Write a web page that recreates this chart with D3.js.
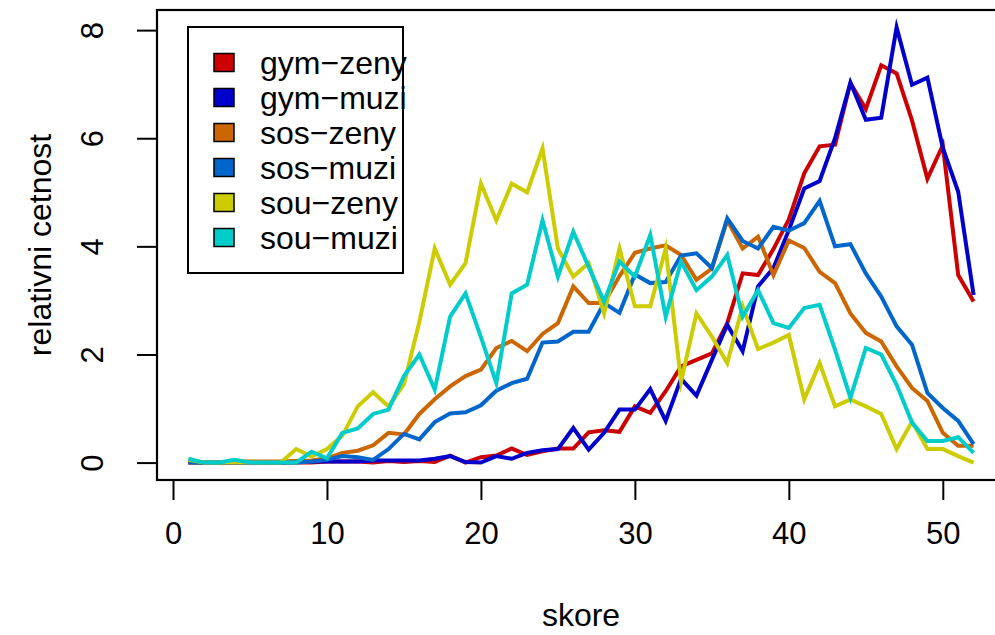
<!DOCTYPE html>
<html>
<head>
<meta charset="utf-8">
<script src="https://cdn.jsdelivr.net/npm/d3@7"></script>
<style>
  body { margin: 0; background: #fff; }
  svg text { font-family: "Liberation Sans", Arial, sans-serif; fill: #000; }
</style>
</head>
<body>
<div id="chart"></div>
<script>
/* global d3 */

var skore = d3.range(1, 53);

var seriesNames = ["gym\u2212zeny", "gym\u2212muzi", "sos\u2212zeny", "sos\u2212muzi", "sou\u2212zeny", "sou\u2212muzi"];
var seriesColors = ["#CC0000", "#0000CC", "#CC6600", "#0066CC", "#CCCC00", "#00CCCC"];

var gymZeny = [0.02, 0, 0, 0, 0, 0, 0, 0, 0, 0.02, 0.02, 0.02, 0, 0.03, 0.01, 0.03, 0.01, 0.13, 0, 0.1,
    0.13, 0.26, 0.14, 0.21, 0.26, 0.26, 0.56, 0.6, 0.57, 1.04, 0.92, 1.32, 1.78, 1.9, 2.02, 2.58, 3.5, 3.47, 3.95, 4.5,
    5.35, 5.85, 5.88, 7.02, 6.54, 7.35, 7.2, 6.33, 5.25, 5.87, 3.47, 2.98];
var gymMuzi = [0, 0, 0, 0, 0, 0, 0, 0.02, 0.02, 0.02, 0.02, 0.02, 0.04, 0.04, 0.04, 0.04, 0.07, 0.12, 0.01, 0,
    0.12, 0.07, 0.18, 0.23, 0.25, 0.64, 0.24, 0.55, 0.98, 0.98, 1.36, 0.77, 1.55, 1.24, 1.9, 2.55, 2.06, 3.26, 3.6, 4.3,
    5.07, 5.21, 6.0, 7.03, 6.34, 6.38, 8.05, 6.99, 7.12, 5.82, 5.01, 3.1];
var sosZeny = [0, 0, 0, 0.02, 0.02, 0.02, 0.02, 0.03, 0.04, 0.08, 0.18, 0.22, 0.32, 0.55, 0.52, 0.9, 1.17, 1.41, 1.6, 1.72,
    2.12, 2.25, 2.06, 2.38, 2.58, 3.26, 2.95, 2.95, 3.45, 3.88, 3.96, 4.02, 3.84, 3.38, 3.59, 4.48, 3.96, 4.18, 3.47, 4.11,
    3.97, 3.53, 3.32, 2.76, 2.4, 2.24, 1.78, 1.38, 1.14, 0.55, 0.31, 0.31];
var sosMuzi = [0, 0, 0, 0, 0, 0, 0, 0, 0.02, 0.05, 0.12, 0.1, 0.05, 0.25, 0.53, 0.43, 0.75, 0.91, 0.93, 1.06,
    1.33, 1.47, 1.55, 2.22, 2.24, 2.42, 2.42, 2.95, 2.77, 3.48, 3.32, 3.34, 3.83, 3.87, 3.6, 4.52, 4.1, 3.96, 4.36, 4.29,
    4.43, 4.84, 4.0, 4.04, 3.5, 3.07, 2.52, 2.18, 1.29, 1.01, 0.77, 0.34];
var souZeny = [0.05, 0, 0, 0, 0, 0, 0, 0.25, 0.11, 0.25, 0.5, 1.04, 1.3, 1.04, 1.45, 2.6, 3.96, 3.29, 3.69, 5.16,
    4.48, 5.16, 5.0, 5.81, 3.96, 3.44, 3.69, 2.76, 3.96, 2.89, 2.89, 3.96, 1.5, 2.76, 2.33, 1.84, 2.89, 2.1, 2.22, 2.36,
    1.17, 1.84, 1.04, 1.17, 1.04, 0.9, 0.25, 0.76, 0.25, 0.25, 0.12, 0];
var souMuzi = [0.07, 0, 0, 0.05, 0, 0, 0, 0, 0.2, 0.08, 0.55, 0.63, 0.9, 0.98, 1.6, 2.0, 1.35, 2.7, 3.13, 2.32,
    1.47, 3.13, 3.29, 4.48, 3.44, 4.27, 3.62, 2.98, 3.72, 3.44, 4.21, 2.7, 3.72, 3.19, 3.44, 3.84, 2.7, 3.19, 2.58, 2.49,
    2.86, 2.92, 2.09, 1.2, 2.12, 2.0, 1.44, 0.74, 0.4, 0.4, 0.47, 0.18];

var xTicks = [0, 10, 20, 30, 40, 50];
var yTicks = [0, 2, 4, 6, 8];
var xTitle = "skore",
    yTitle = "relativni cetnost";

var allSeries = [gymZeny, gymMuzi, sosZeny, sosMuzi, souZeny, souMuzi];

var width = 995,
    height = 635,
    box = { left: 157, right: 1005, top: 10, bottom: 480 },
    fontSize = 32,
    tickFontSize = 31;

// R-style axis limits: data range padded by 4% on each side
var xMin = d3.min(skore), xMax = d3.max(skore);
var yMin = d3.min(allSeries, function(s) { return d3.min(s); }),
    yMax = d3.max(allSeries, function(s) { return d3.max(s); });
var xPad = 0.04 * (xMax - xMin),
    yPad = 0.04 * (yMax - yMin);

var xScale = d3.scaleLinear().domain([xMin - xPad, xMax + xPad]).range([box.left, box.right]);
var yScale = d3.scaleLinear().domain([yMin - yPad, yMax + yPad]).range([box.bottom, box.top]);

var svg = d3.select("#chart").append("svg")
    .attr("width", width)
    .attr("height", height);

svg.append("defs").append("clipPath")
    .attr("id", "plotClip")
    .append("rect")
    .attr("x", box.left).attr("y", box.top)
    .attr("width", box.right - box.left).attr("height", box.bottom - box.top);

// lines, drawn in the same order as matplot
var line = d3.line()
    .x(function(d, i) { return xScale(skore[i]); })
    .y(function(d) { return yScale(d); });

svg.append("g")
    .attr("clip-path", "url(#plotClip)")
    .selectAll("path")
    .data(allSeries)
    .enter().append("path")
    .attr("d", line)
    .attr("fill", "none")
    .attr("stroke", function(d, i) { return seriesColors[i]; })
    .attr("stroke-width", 4)
    .attr("stroke-linejoin", "miter")
    .attr("stroke-miterlimit", 10);

// plot box
svg.append("rect")
    .attr("x", box.left).attr("y", box.top)
    .attr("width", box.right - box.left).attr("height", box.bottom - box.top)
    .attr("fill", "none")
    .attr("stroke", "#000")
    .attr("stroke-width", 2.2);

// x axis
var xAxis = svg.append("g")
    .attr("transform", "translate(0," + box.bottom + ")")
    .call(d3.axisBottom(xScale).tickValues(xTicks).tickSize(20).tickPadding(22).tickSizeOuter(0));
xAxis.select(".domain")
    .attr("d", "M" + xScale(xTicks[0]) + ",0H" + xScale(xTicks[xTicks.length - 1]))
    .attr("stroke-width", 2);
xAxis.selectAll(".tick line").attr("stroke-width", 2);
xAxis.selectAll(".tick text")
    .attr("font-size", tickFontSize)
    .attr("font-family", "Liberation Sans, Arial, sans-serif");

// y axis, labels parallel to the axis like R's default
var yAxis = svg.append("g")
    .attr("transform", "translate(" + box.left + ",0)")
    .call(d3.axisLeft(yScale).tickValues(yTicks).tickSize(20).tickSizeOuter(0));
yAxis.select(".domain")
    .attr("d", "M0," + yScale(yTicks[0]) + "V" + yScale(yTicks[yTicks.length - 1]))
    .attr("stroke-width", 2);
yAxis.selectAll(".tick line").attr("stroke-width", 2);
yAxis.selectAll(".tick text")
    .attr("x", null).attr("dy", null)
    .attr("transform", "translate(-65,0) rotate(-90)")
    .attr("text-anchor", "middle")
    .attr("dominant-baseline", "central")
    .attr("font-size", tickFontSize)
    .attr("font-family", "Liberation Sans, Arial, sans-serif");

// axis titles
svg.append("text")
    .attr("x", (box.left + box.right) / 2)
    .attr("y", 615)
    .attr("text-anchor", "middle")
    .attr("dominant-baseline", "central")
    .style("font-size", fontSize + "px")
    .text(xTitle);

svg.append("text")
    .attr("transform", "translate(40," + ((box.top + box.bottom) / 2) + ") rotate(-90)")
    .attr("text-anchor", "middle")
    .attr("dominant-baseline", "central")
    .style("font-size", fontSize + "px")
    .text(yTitle);

// legend
var legend = svg.append("g");
legend.append("rect")
    .attr("x", 188).attr("y", 27)
    .attr("width", 215).attr("height", 246)
    .attr("fill", "#fff")
    .attr("stroke", "#000")
    .attr("stroke-width", 2);

var items = legend.selectAll("g.item")
    .data(seriesNames)
    .enter().append("g")
    .attr("class", "item")
    .attr("transform", function(d, i) { return "translate(0," + (62.5 + i * 35) + ")"; });

items.append("rect")
    .attr("x", 214).attr("y", -9)
    .attr("width", 20).attr("height", 18)
    .attr("fill", function(d, i) { return seriesColors[i]; })
    .attr("stroke", "#000")
    .attr("stroke-width", 1.5);

items.append("text")
    .attr("x", 260)
    .attr("dominant-baseline", "central")
    .style("font-size", fontSize + "px")
    .text(function(d) { return d; });
</script>
</body>
</html>
